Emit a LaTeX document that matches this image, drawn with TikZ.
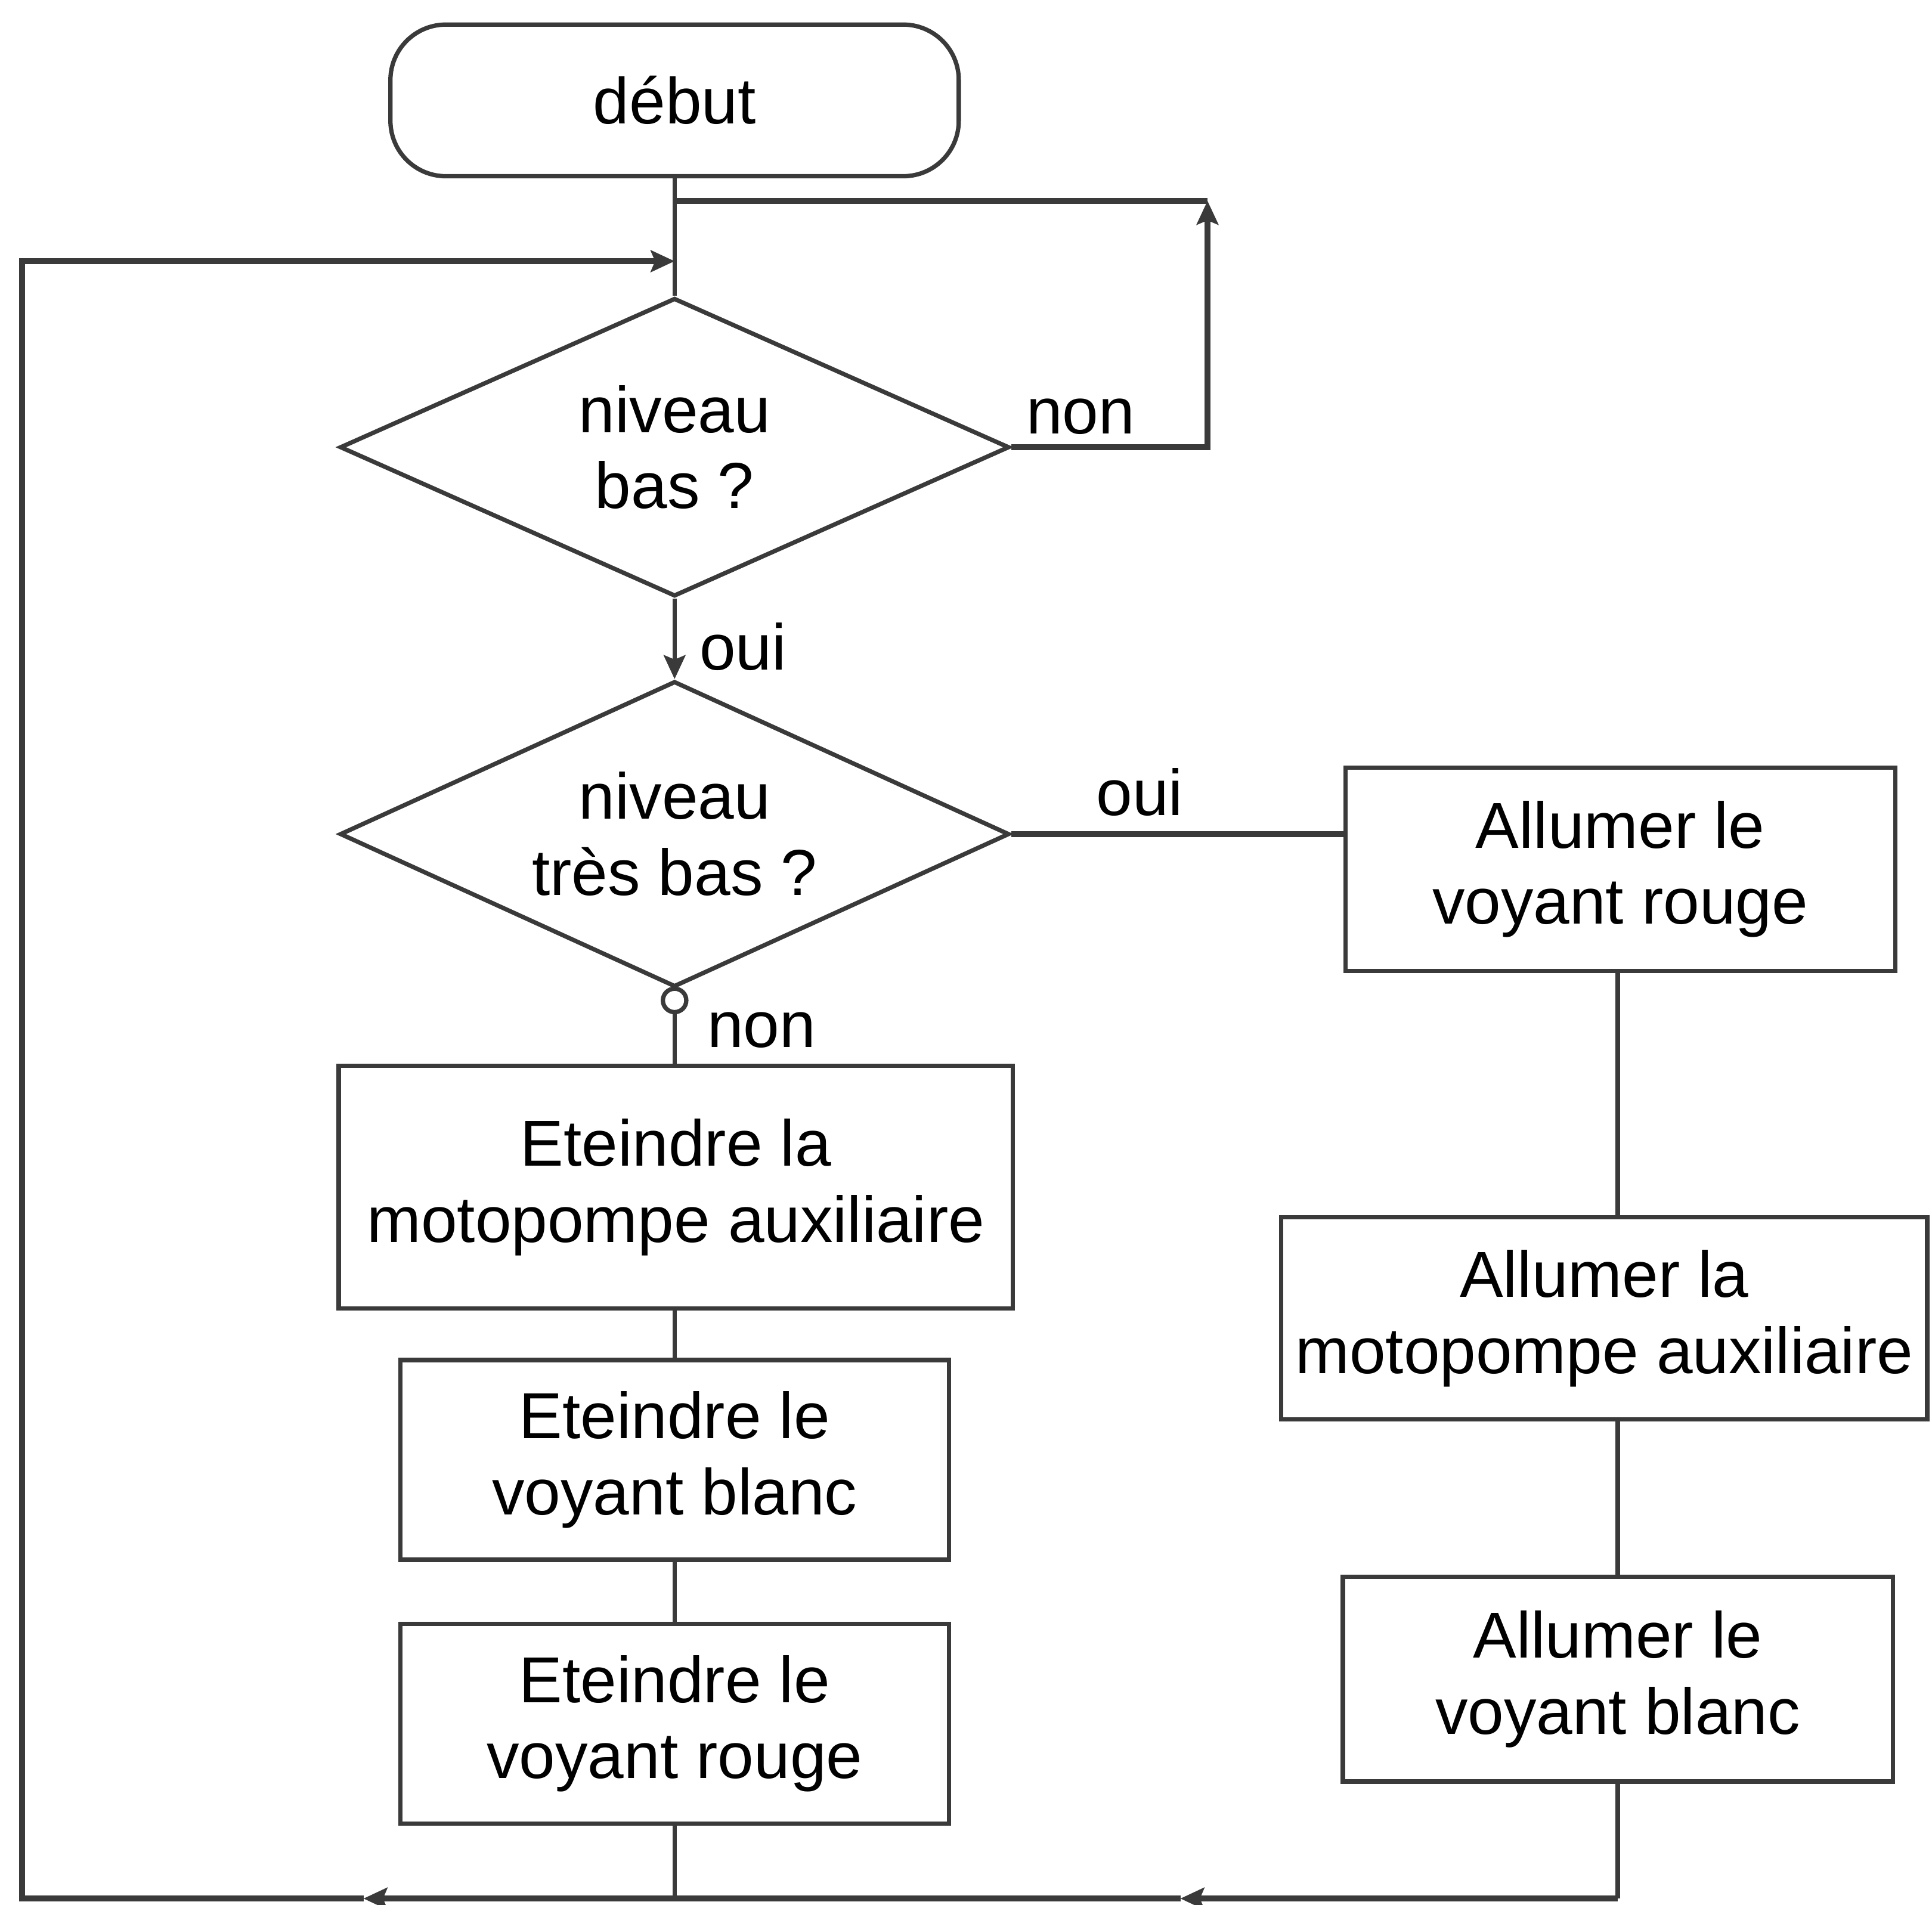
\documentclass[tikz,border=0pt]{standalone}
\usepackage{fontspec}
\setmainfont{Liberation Sans}
\usetikzlibrary{shapes.geometric,arrows.meta}
\definecolor{ln}{HTML}{3A3A3A}
\begin{document}
\begin{tikzpicture}[x=0.01cm,y=-0.01cm,
  every node/.style={font=\fontsize{15}{17.6}\selectfont, text=black},
  shp/.style={draw=ln, line width=1pt, fill=white, align=center, inner sep=0pt},
  term/.style={shp, rectangle, rounded corners=0.45cm, minimum width=4.61cm, minimum height=1.23cm},
  dec/.style={shp, diamond, aspect=2.24, minimum width=5.43cm},
  procbox/.style={shp, rectangle},
  con/.style={draw=ln, line width=1pt},
  heavy/.style={draw=ln, line width=1.3pt},
  tip/.style={-{Stealth[length=5.5pt,width=5pt,inset=1pt]}},
  lbl/.style={inner sep=0pt}
]
\useasboundingbox (0,0) rectangle (1568,1546);

% nodes
\node[term] (debut) at (547.5,81.5) {début};
\node[dec, minimum height=2.42cm] (d1) at (547.5,363) {niveau\\bas ?};
\node[dec, minimum height=2.48cm] (d2) at (547.5,677) {niveau\\très bas ?};
\node[procbox, minimum width=5.47cm, minimum height=1.97cm] (L1) at (548.5,963.5) {Eteindre la\\motopompe auxiliaire};
\node[procbox, minimum width=4.45cm, minimum height=1.62cm] (L2) at (547.5,1185) {Eteindre le\\voyant blanc};
\node[procbox, minimum width=4.45cm, minimum height=1.62cm] (L3) at (547.5,1399) {Eteindre le\\voyant rouge};
\node[procbox, minimum width=4.46cm, minimum height=1.65cm] (R1) at (1315,705.5) {Allumer le\\voyant rouge};
\node[procbox, minimum width=5.24cm, minimum height=1.64cm] (R2) at (1302,1070) {Allumer la\\motopompe auxiliaire};
\node[procbox, minimum width=4.46cm, minimum height=1.66cm] (R3) at (1313,1363) {Allumer le\\voyant blanc};
\node[circle, draw=ln, line width=1pt, fill=white, minimum size=0.19cm, inner sep=0pt] (c) at (547.5,812) {};

% labels
\node[lbl] (lnon1) at (877,338) {non};
\node[lbl] (loui1) at (603,525) {oui};
\node[lbl] (loui2) at (925,643) {oui};
\node[lbl] (lnon2) at (618,836) {non};

% coordinates
\coordinate (tr) at (980,163);
\coordinate (rr) at (980,363);
\coordinate (bl) at (18,1541);
\coordinate (ul) at (18,212);
\coordinate (xL) at (547.5,0);
\coordinate (xR) at (1313,0);
\coordinate (br) at (1313,1541);
\coordinate (a1) at (295,1541);
\coordinate (a2) at (958,1541);

% connectors
\draw[con] (debut.south) -- (d1.north);
\draw[heavy, tip] (d1.east) -- (rr) -- (tr);
\draw[heavy] (tr) -- (debut.south |- tr);
\draw[con, tip] (d1.south) -- (d2.north);
\draw[con] (d2.south) -- (c.north);
\draw[con] (c.south) -- (L1.north -| xL);
\draw[con] (L1.south -| xL) -- (L2.north -| xL);
\draw[con] (L2.south -| xL) -- (L3.north -| xL);
\draw[con] (L3.south -| xL) -- (xL |- bl);
\draw[heavy] (d2.east) -- (d2.east -| R1.west);
\draw[con] (R1.south -| xR) -- (R2.north -| xR);
\draw[con] (R2.south -| xR) -- (R3.north -| xR);
\draw[con] (R3.south -| xR) -- (br);
\draw[heavy, tip] (br) -- (a2);
\draw[heavy, tip] (a2) -- (a1);
\draw[heavy, tip] (a1) -- (bl) -- (ul) -- (d1.north |- ul);
\end{tikzpicture}
\end{document}
